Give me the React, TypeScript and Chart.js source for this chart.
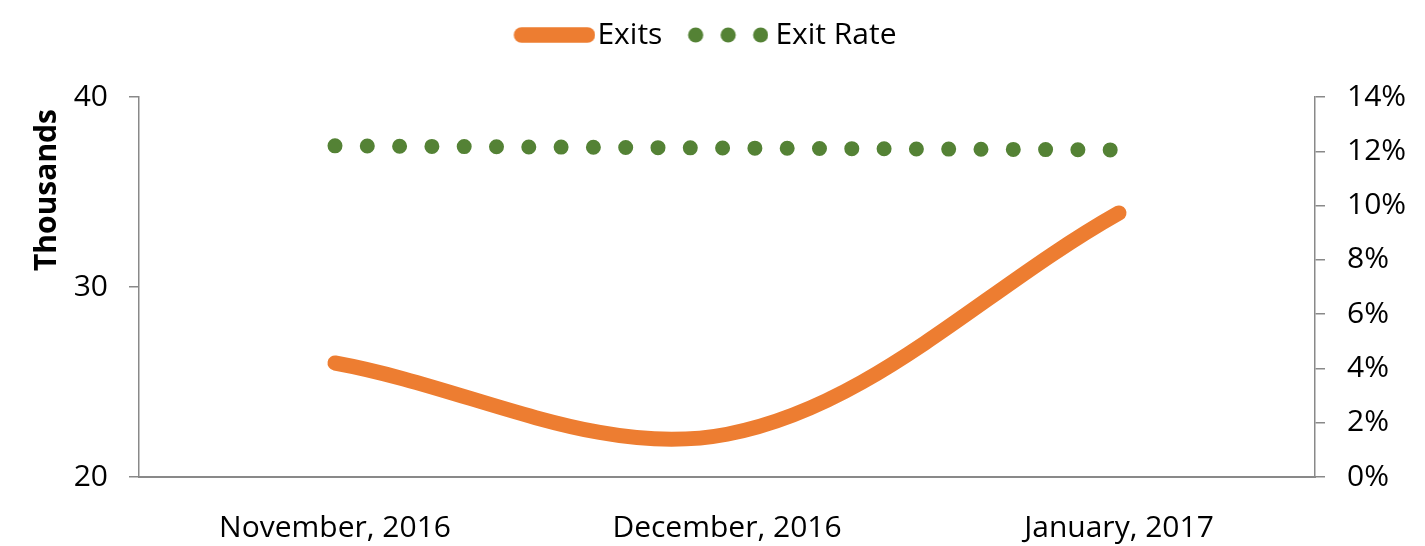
import React, { useEffect, useRef } from "react";
import { Chart, registerables } from "chart.js";

Chart.register(...registerables);

const categories = ["November, 2016", "December, 2016", "January, 2017"];
const exitsThousands = [26.0, 22.25, 33.9];
const exitRatePct = [12.2, 12.12, 12.05];
const leftTicks = { min: 20, max: 40, step: 10 };
const rightTicks = { min: 0, max: 14, step: 2 };
const leftAxisTitle = "Thousands";

const ORANGE = "#ED7D31";
const GREEN = "#548235";
const AXIS = "#898989";
const FONT = "'Open Sans', 'Noto Sans', sans-serif";

function makeOrangeSwatch(): HTMLCanvasElement {
  const c = document.createElement("canvas");
  c.width = 108;
  c.height = 18;
  const ctx = c.getContext("2d")!;
  ctx.strokeStyle = ORANGE;
  ctx.lineWidth = 15.5;
  ctx.lineCap = "round";
  ctx.beginPath();
  ctx.moveTo(34, 9);
  ctx.lineTo(100, 9);
  ctx.stroke();
  return c;
}

function makeGreenSwatch(): HTMLCanvasElement {
  const c = document.createElement("canvas");
  c.width = 98;
  c.height = 18;
  const ctx = c.getContext("2d")!;
  ctx.fillStyle = GREEN;
  [25.25, 57.75, 90.25].forEach((cx) => {
    ctx.beginPath();
    ctx.arc(cx, 9, 7.6, 0, Math.PI * 2);
    ctx.fill();
  });
  return c;
}

export default function App() {
  const ref = useRef<HTMLCanvasElement | null>(null);

  useEffect(() => {
    document.body.style.margin = "0";
    const canvas = ref.current;
    if (!canvas) return;
    const swatches = [makeOrangeSwatch(), makeGreenSwatch()];

    const legendHeightPlugin = {
      id: "legendHeightFix",
      beforeInit(chart: any) {
        const legend = chart.legend;
        if (legend) {
          const orig = legend.fit.bind(legend);
          legend.fit = function () {
            orig();
            this.height = 93;
          };
        }
      },
    };

    const axisTitlePlugin = {
      id: "leftAxisTitle",
      afterDraw(chart: any) {
        const ctx = chart.ctx;
        const area = chart.chartArea;
        ctx.save();
        ctx.translate(47.5, area.top + 93);
        ctx.rotate(-Math.PI / 2);
        ctx.textAlign = "center";
        ctx.textBaseline = "middle";
        ctx.fillStyle = "#000";
        ctx.font = `bold 30px ${FONT}`;
        ctx.fillText(leftAxisTitle, 0, 0);
        ctx.restore();
      },
    };

    const chart = new Chart(canvas, {
      type: "line",
      data: {
        labels: categories,
        datasets: [
          {
            label: "Exits",
            data: exitsThousands,
            yAxisID: "y",
            borderColor: ORANGE,
            backgroundColor: ORANGE,
            borderWidth: 15,
            borderCapStyle: "round",
            borderJoinStyle: "round",
            tension: 0.35,
            pointRadius: 0,
            pointHoverRadius: 0,
            fill: false,
          },
          {
            label: "Exit Rate",
            data: exitRatePct,
            yAxisID: "y1",
            borderColor: GREEN,
            backgroundColor: GREEN,
            borderWidth: 15,
            borderCapStyle: "round",
            borderDash: [0, 32.3],
            tension: 0,
            pointRadius: 0,
            pointHoverRadius: 0,
            fill: false,
          },
        ],
      },
      options: {
        animation: false,
        responsive: true,
        maintainAspectRatio: false,
        events: [],
        layout: { padding: { top: 4, right: 0, left: -28, bottom: 0 } },
        plugins: {
          tooltip: { enabled: false },
          legend: {
            display: true,
            position: "top",
            labels: {
              usePointStyle: true,
              pointStyleWidth: 82,
              boxHeight: 18,
              padding: 16,
              color: "#000",
              font: { family: FONT, size: 30 },
              generateLabels: (ch: any) => {
                const items = Chart.defaults.plugins.legend.labels.generateLabels(ch);
                return items.map((it: any, i: number) => ({
                  ...it,
                  pointStyle: swatches[i],
                }));
              },
            },
          },
        },
        scales: {
          x: {
            type: "category",
            offset: true,
            grid: { display: false, drawOnChartArea: false },
            border: { display: true, color: AXIS, width: 2 },
            ticks: {
              color: "#000",
              font: { family: FONT, size: 30 },
              padding: 25,
              maxRotation: 0,
              autoSkip: false,
            },
            afterFit: (s: any) => {
              s.height = 69;
            },
          },
          y: {
            type: "linear",
            position: "left",
            min: leftTicks.min,
            max: leftTicks.max,
            ticks: {
              stepSize: leftTicks.step,
              color: "#000",
              font: { family: FONT, size: 30 },
              padding: 21,
            },
            grid: {
              drawOnChartArea: false,
              drawTicks: true,
              tickLength: 10,
              color: AXIS,
              lineWidth: 1.5,
            },
            border: { display: true, color: AXIS, width: 1.5 },
            title: { display: false, text: leftAxisTitle },
            afterFit: (s: any) => {
              s.width = 167;
            },
          },
          y1: {
            type: "linear",
            position: "right",
            min: rightTicks.min,
            max: rightTicks.max,
            ticks: {
              stepSize: rightTicks.step,
              color: "#000",
              font: { family: FONT, size: 30 },
              padding: 22,
              callback: (v: any) => `${v}%`,
            },
            grid: {
              drawOnChartArea: false,
              drawTicks: true,
              tickLength: 10,
              color: AXIS,
              lineWidth: 1.5,
            },
            border: { display: true, color: AXIS, width: 1.5 },
            afterFit: (s: any) => {
              s.width = 110;
            },
          },
        },
      },
      plugins: [legendHeightPlugin, axisTitlePlugin],
    } as any);

    return () => {
      chart.destroy();
    };
  }, []);

  return (
    <div style={{ position: "relative", width: "1425px", height: "546px" }}>
      <canvas ref={ref} />
    </div>
  );
}
